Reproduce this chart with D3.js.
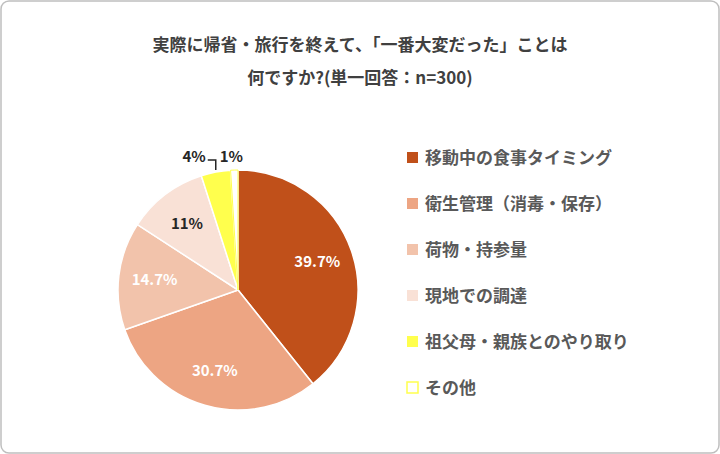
<!DOCTYPE html>
<html><head><meta charset="utf-8">
<script src="https://cdn.jsdelivr.net/npm/d3@7"></script>
<style>body{margin:0;background:#fff;font-family:"Noto Sans CJK JP","Noto Sans",sans-serif;}</style>
</head><body>
<script>
// data
var categories = ["移動中の食事タイミング", "衛生管理（消毒・保存）", "荷物・持参量", "現地での調達", "祖父母・親族とのやり取り", "その他"];
var values = [39.7, 30.7, 14.7, 11, 4, 1];
var labels = ["39.7%", "30.7%", "14.7%", "11%", "4%", "1%"];
var fills = ["#c0501a", "#eda583", "#f2c3ab", "#f9e1d6", "#ffff4d", "#ffffff"];

var svg = d3.select("body").append("svg").attr("width", 720).attr("height", 454);
svg.append("rect").attr("x", 1).attr("y", 1).attr("width", 718).attr("height", 452)
    .attr("rx", 8).attr("fill", "#fff").attr("stroke", "#bfbfbf").attr("stroke-width", 1.5);

// title
svg.selectAll(".t").data(["実際に帰省・旅行を終えて、「一番大変だった」ことは", "何ですか?(単一回答：n=300)"]).enter()
    .append("text").attr("x", 360).attr("y", function(d, i){ return 51 + i * 33; })
    .attr("text-anchor", "middle").attr("font-size", 17).attr("font-weight", "bold")
    .attr("fill", "#404040").text(function(d){ return d; });

var cx = 238, cy = 290, r = 120;
var pie = d3.pie().sort(null).value(function(d){ return d; });
var arcs = pie(values);
var arc = d3.arc().innerRadius(0).outerRadius(r);
var g = svg.append("g").attr("transform", "translate(" + cx + "," + cy + ")");

g.selectAll("path").data(arcs).enter().append("path")
    .attr("d", arc)
    .attr("fill", function(d, i){ return fills[i]; })
    .attr("stroke", function(d, i){ return i == 5 ? "#ffff4d" : "#fff"; })
    .attr("stroke-width", function(d, i){ return i == 5 ? 1 : 1.5; });

var inner = d3.arc().innerRadius(r * 0.7).outerRadius(r * 0.7);
g.selectAll(".lab").data(arcs.slice(0, 4)).enter().append("text")
    .attr("transform", function(d){ return "translate(" + inner.centroid(d) + ")"; })
    .attr("text-anchor", "middle").attr("dy", "0.35em")
    .attr("font-size", 15).attr("font-weight", "bold")
    .attr("fill", function(d, i){ return i == 3 ? "#262626" : "#fff"; })
    .text(function(d, i){ return labels[i]; });

// outside labels for small slices
var edge = d3.arc().innerRadius(r).outerRadius(r);
var p4 = edge.centroid(arcs[4]);
g.append("polyline")
    .attr("points", [[p4[0], p4[1] - 2], [p4[0], -130], [p4[0] - 8, -130]].join(" "))
    .attr("fill", "none").attr("stroke", "#262626").attr("stroke-width", 1.5);
g.append("text").attr("x", p4[0] - 10).attr("y", -133).attr("dy", "0.35em")
    .attr("text-anchor", "end").attr("font-size", 15).attr("font-weight", "bold")
    .attr("fill", "#262626").text(labels[4]);
var p5 = edge.centroid(arcs[5]);
g.append("text").attr("x", p5[0] - 3).attr("y", -133).attr("dy", "0.35em")
    .attr("text-anchor", "middle").attr("font-size", 15).attr("font-weight", "bold")
    .attr("fill", "#262626").text(labels[5]);

// legend
var lg = svg.selectAll(".lg").data(categories).enter().append("g")
    .attr("transform", function(d, i){ return "translate(407," + (158 + i * 46) + ")"; });
lg.append("rect").attr("x", 0).attr("y", -6).attr("width", 11).attr("height", 11)
    .attr("fill", function(d, i){ return fills[i]; })
    .attr("stroke", function(d, i){ return i == 5 ? "#ffff4d" : "none"; })
    .attr("stroke-width", 1.5);
lg.append("text").attr("x", 18).attr("dy", "0.35em")
    .attr("font-size", 17).attr("font-weight", "bold").attr("fill", "#595959")
    .text(function(d){ return d; });
</script>
</body></html>
